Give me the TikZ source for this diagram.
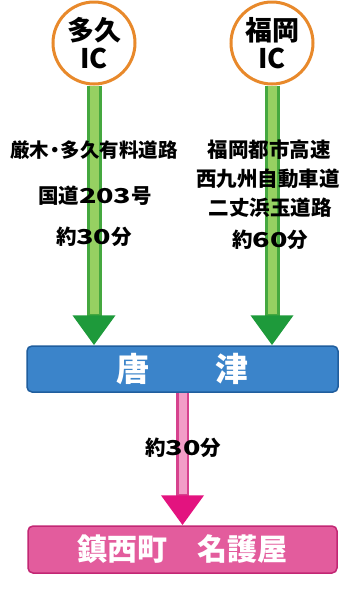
\documentclass[tikz,border=0pt]{standalone}
\usepackage{fontspec}
\usepackage{graphicx}
\setmainfont{Noto Sans CJK JP}
\usetikzlibrary{arrows.meta,calc}
\definecolor{orng}{HTML}{E8892B}
\definecolor{gdark}{HTML}{45A83F}
\definecolor{glight}{HTML}{96D062}
\definecolor{garrow}{HTML}{1E9A3B}
\definecolor{bfill}{HTML}{3B84CA}
\definecolor{bedge}{HTML}{205E9E}
\definecolor{pfill}{HTML}{E35C9D}
\definecolor{pedge}{HTML}{C22774}
\definecolor{pdark}{HTML}{D6428E}
\definecolor{plight}{HTML}{F29DC7}
\definecolor{parrow}{HTML}{E3137F}
\newcommand\dg[1]{\scalebox{1.4}[1.0]{#1}}
\begin{document}
\begin{tikzpicture}[x=1pt,y=-1pt,
  icnode/.style={circle,draw=orng,line width=3pt,fill=white,minimum size=82pt,inner sep=0pt,
    align=center,font=\fontsize{27}{29}\selectfont\bfseries},
  citybox/.style={rectangle,rounded corners=5pt,line width=1.5pt,inner sep=0pt},
  lbl/.style={inner sep=0pt,font=\fontsize{20.5}{22}\selectfont\bfseries},
  lbll/.style={inner sep=0pt,font=\fontsize{19.5}{22}\selectfont\bfseries}]
\useasboundingbox[fill=white] (0,0) rectangle (349,595);
% nodes
\node[icnode] (c1) at (94,43) {多久\\[-1pt]IC};
\node[icnode] (c2) at (272,43) {福岡\\[-1pt]IC};
\node[citybox,draw=bedge,fill=bfill,minimum width=311pt,minimum height=46pt,
  text=white,font=\fontsize{33}{33}\selectfont\bfseries] (kara) at (182.5,369) {唐　　津};
\node[citybox,draw=pedge,fill=pfill,minimum width=309pt,minimum height=47pt,
  text=white,font=\fontsize{30}{30}\selectfont\bfseries] (nago) at (182.5,549.5) {鎮西町　名護屋};
% green arrows
\foreach \c in {c1,c2}{
  \draw[line width=15pt,gdark,-{Triangle[width=41pt,length=30pt,color=garrow]}]
    (\c.south) -- (\c.south |- kara.north);
  \draw[line width=9pt,glight] (\c.south) -- ($(\c.south |- kara.north)+(0,-31)$);
}
% pink arrow
\draw[line width=13pt,pdark,-{Triangle[width=41pt,length=30pt,color=parrow]}]
  (kara.south) -- (nago.north);
\draw[line width=8pt,plight] (kara.south) -- ($(nago.north)+(0,-31)$);
% labels
\node[lbll] (l1) at (94,150) {厳木\kern-4pt・\kern-4pt多久有料道路};
\node[lbl] (l2) at (95,196) {国道\dg{203}号};
\node[lbl] (l3) at (94,237) {約\dg{30}分};
\node[lbl] (r1) at (269,150) {福岡都市高速};
\node[lbl] (r2) at (268,179) {西九州自動車道};
\node[lbl] (r3) at (270,208) {二丈浜玉道路};
\node[lbl] (r4) at (270,240) {約\dg{60}分};
\node[lbl] (p1) at (183,448) {約\dg{30}分};
\end{tikzpicture}
\end{document}
